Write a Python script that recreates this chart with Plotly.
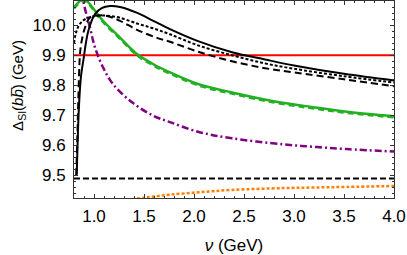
import plotly.graph_objects as go

# ---- data ----
nu_solid = [0.827, 0.84, 0.853, 0.87, 0.893, 0.943, 1.01, 1.077, 1.16, 1.26, 1.427, 1.593, 1.76,
            2.04, 2.38, 2.71, 3.0, 3.5, 4.0]
y_solid = [9.50, 9.65, 9.751, 9.83, 9.882, 9.981, 10.037, 10.057, 10.064, 10.061, 10.042, 10.015, 9.987,
           9.947, 9.910, 9.886, 9.866, 9.838, 9.816]

nu_dotted = [0.8, 0.82, 0.85, 0.9, 1.0, 1.13, 1.26, 1.43, 1.59, 1.76, 2.04, 2.38, 2.71, 3.0, 3.5, 4.0]
y_dotted = [9.94, 9.975, 10.0, 10.018, 10.03, 10.032, 10.025, 10.006, 9.99, 9.97, 9.933, 9.900, 9.873,
            9.855, 9.830, 9.809]

nu_dashed = [0.822, 0.833, 0.843, 0.86, 0.877, 0.91, 0.96, 1.05, 1.13, 1.26, 1.43, 1.63, 1.76, 2.04,
             2.38, 2.71, 3.0, 3.5, 4.0]
y_dashed = [9.50, 9.62, 9.749, 9.905, 9.948, 9.992, 10.026, 10.033, 10.031, 10.015, 9.985, 9.958, 9.945,
            9.912, 9.880, 9.857, 9.843, 9.820, 9.797]

nu_green = [0.8, 0.84, 0.88, 0.92, 0.96, 1.0, 1.09, 1.26, 1.43, 1.59, 1.76, 2.04, 2.38, 2.81, 3.19, 3.53, 4.0]
y_green = [10.06, 10.075, 10.085, 10.083, 10.07, 10.053, 10.015, 9.959, 9.904, 9.871, 9.843, 9.804,
           9.776, 9.746, 9.727, 9.712, 9.697]

nu_purple = [0.86, 0.893, 0.96, 1.01, 1.09, 1.19, 1.38, 1.59, 1.76, 2.04, 2.38, 2.89, 3.19, 3.53, 4.0]
y_purple = [10.16, 10.08, 9.992, 9.926, 9.86, 9.804, 9.743, 9.699, 9.677, 9.645, 9.623, 9.603,
            9.595, 9.587, 9.579]

nu_orange = [1.38, 1.5, 1.6, 1.76, 2.04, 2.38, 2.89, 3.19, 3.53, 4.0]
y_orange = [9.42, 9.425, 9.429, 9.435, 9.443, 9.451, 9.457, 9.459, 9.461, 9.464]

nu_range = [0.8, 4.0]
y_red = 9.9
y_black_h = 9.489

x_ticks = [1.0, 1.5, 2.0, 2.5, 3.0, 3.5, 4.0]
y_ticks = [9.5, 9.6, 9.7, 9.8, 9.9, 10.0]

fig = go.Figure()

fig.add_trace(go.Scatter(x=nu_range, y=[y_red, y_red], mode="lines",
                         line=dict(color="#ff0000", width=2)))
fig.add_trace(go.Scatter(x=nu_range, y=[y_black_h, y_black_h], mode="lines",
                         line=dict(color="black", width=2, dash="6px,3px")))
fig.add_trace(go.Scatter(x=nu_orange, y=y_orange, mode="lines", line_shape="spline",
                         line=dict(color="#ff8000", width=2.5, dash="3px,2px")))
fig.add_trace(go.Scatter(x=nu_purple, y=y_purple, mode="lines", line_shape="spline",
                         line=dict(color="#800080", width=2.5, dash="7px,3px,2px,3px")))
fig.add_trace(go.Scatter(x=nu_green, y=y_green, mode="lines", line_shape="spline",
                         line=dict(color="#22b022", width=2.5)))
fig.add_trace(go.Scatter(x=nu_green, y=[v - 0.004 for v in y_green], mode="lines", line_shape="spline",
                         line=dict(color="#22b022", width=2.5, dash="6px,4px")))
fig.add_trace(go.Scatter(x=nu_dashed, y=y_dashed, mode="lines", line_shape="spline",
                         line=dict(color="black", width=2, dash="7px,4px")))
fig.add_trace(go.Scatter(x=nu_dotted, y=y_dotted, mode="lines", line_shape="spline",
                         line=dict(color="black", width=2, dash="3px,2px")))
fig.add_trace(go.Scatter(x=nu_solid, y=y_solid, mode="lines", line_shape="spline",
                         line=dict(color="black", width=2)))

axis_common = dict(
    showgrid=False, zeroline=False, showline=True, linecolor="#333", linewidth=1,
    mirror="allticks", ticks="inside", ticklen=4, tickcolor="#333", tickwidth=1,
    ticklabeloverflow="allow",
    tickfont=dict(family="Liberation Sans, Arial", size=17, color="black"),
)

fig.update_layout(
    width=407, height=255,
    margin=dict(l=74, r=13, t=1, b=57),
    paper_bgcolor="white", plot_bgcolor="white",
    showlegend=False,
    xaxis=dict(range=nu_range, tickvals=x_ticks, ticktext=[f"{v:.1f}" for v in x_ticks],
               minor=dict(ticks="inside", dtick=0.1, ticklen=2, tickcolor="#333"),
               ticklabelstandoff=3,
               title=dict(text="<i>ν</i> (GeV)", standoff=14,
                          font=dict(family="Liberation Sans, Arial", size=17, color="black")),
               **axis_common),
    yaxis=dict(range=[9.424, 10.081], tickvals=y_ticks, ticktext=[f"{v:.1f}" for v in y_ticks],
               minor=dict(ticks="inside", dtick=0.02, tick0=9.5, ticklen=2, tickcolor="#333"),
               ticklabelstandoff=4,
               **axis_common),
    annotations=[dict(
        text="Δ<sub>SI</sub>(<i>b</i><i>b\u0305</i>) (GeV)",
        xref="paper", yref="paper", x=-0.172, y=0.574,
        xanchor="center", yanchor="middle", textangle=-90, showarrow=False,
        font=dict(family="Liberation Sans, Arial", size=15, color="black"),
    )],
)

fig.write_html("out.html", config={"displayModeBar": False},
               post_script="document.body.style.margin='0px';")
